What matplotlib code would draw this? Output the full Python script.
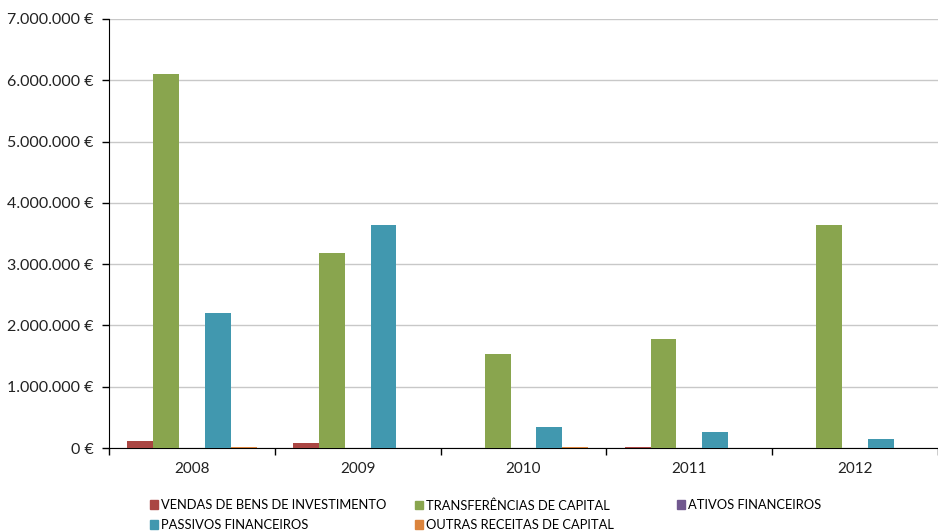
import matplotlib.pyplot as plt
from matplotlib.patches import Patch
import numpy as np

plt.rcParams['font.family'] = ['Lato', 'DejaVu Sans']

years = ['2008', '2009', '2010', '2011', '2012']
series_names = ['VENDAS DE BENS DE INVESTIMENTO', 'TRANSFERÊNCIAS DE CAPITAL', 'ATIVOS FINANCEIROS',
                'PASSIVOS FINANCEIROS', 'OUTRAS RECEITAS DE CAPITAL']
vendas = [110000, 78000, 0, 12000, 0]
transferencias = [6100000, 3180000, 1530000, 1780000, 3640000]
ativos = [0, 0, 0, 0, 0]
passivos = [2200000, 3640000, 350000, 256000, 148000]
outras = [12000, 6000, 10000, 0, 0]
colors = ['#AA4643', '#89A54E', '#71588F', '#4198AF', '#DB843D']


def euro_label(v):
    return '{:,.0f} €'.format(v).replace(',', '.')


fig = plt.figure(figsize=(9.38, 5.32), dpi=100)
ax = fig.add_axes([109 / 938, 84 / 532, 829 / 938, 429 / 532])

x = np.arange(len(years))
w = 0.156
all_series = [vendas, transferencias, ativos, passivos, outras]
for i, vals in enumerate(all_series):
    ax.bar(x + (i - 2) * w, vals, w, color=colors[i], label=series_names[i], zorder=3)

ax.set_ylim(0, 7000000)
ax.set_yticks(np.arange(0, 7000001, 1000000))
ax.set_yticklabels([euro_label(v) for v in np.arange(0, 7000001, 1000000)])
ax.set_xlim(-0.5, 4.464)
ax.set_xticks(x)
ax.set_xticklabels(years)
ax.set_xticks(np.arange(-0.5, 5, 1), minor=True)
ax.tick_params(axis='x', which='major', length=0, pad=10, labelsize=11, colors='#222222')
ax.tick_params(axis='x', which='minor', length=5, width=1, direction='out')
ax.tick_params(axis='y', length=5, width=1, labelsize=11.5, pad=6, colors='#222222')
ax.tick_params(axis='y', color='black')
ax.grid(axis='y', color='#c8c8c8', linewidth=1, zorder=0)
ax.spines['top'].set_visible(False)
ax.spines['right'].set_visible(False)
ax.spines['left'].set_color('black')
ax.spines['bottom'].set_color('black')

# legend placed column by column
cols = [[0, 3], [1, 4], [2]]
xpos = [150, 415, 677]
for c, idx in enumerate(cols):
    handles = [Patch(color=colors[k], label=series_names[k]) for k in idx]
    fig.legend(handles=handles, loc='upper left', bbox_to_anchor=(xpos[c] / 938, 1 - 499 / 532),
               frameon=False, fontsize=9.3, handlelength=0.65, handleheight=0.65, handletextpad=0.2,
               labelspacing=0.6, borderaxespad=0, borderpad=0)

fig.savefig('out.png', dpi=100)
